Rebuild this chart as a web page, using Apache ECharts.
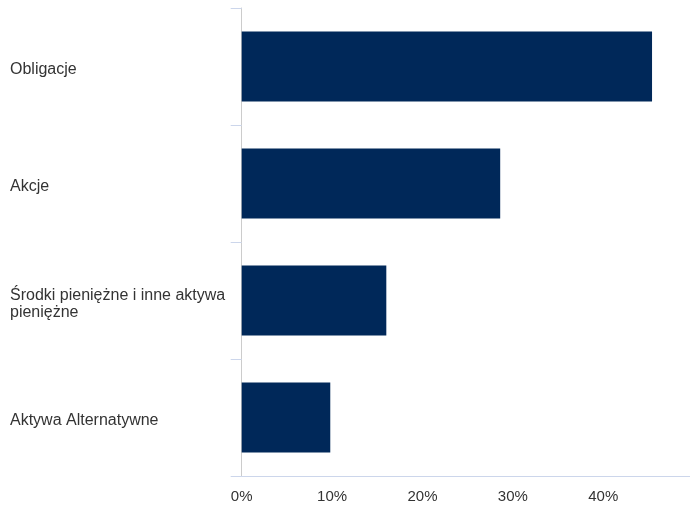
<!DOCTYPE html>
<html>
<head>
<meta charset="utf-8">
<script src="https://cdn.jsdelivr.net/npm/echarts@6/dist/echarts.min.js"></script>
<style>
html,body{margin:0;padding:0;background:#fff;}
#c{width:690px;height:509px;}
</style>
</head>
<body>
<div id="c"></div>
<script>
var categories = ['Obligacje', 'Akcje', 'Środki pieniężne i inne aktywa pieniężne', 'Aktywa Alternatywne'];
var values = [45.4, 28.6, 16.0, 9.8];
var tickLabels = ['0%', '10%', '20%', '30%', '40%'];

function wrapWords(text, maxChars) {
  var words = text.split(' '), lines = [], cur = '';
  words.forEach(function (w) {
    var next = cur ? cur + ' ' + w : w;
    if (next.length > maxChars && cur) { lines.push(cur); cur = w; }
    else { cur = next; }
  });
  if (cur) lines.push(cur);
  return lines.map(function (l) { return '{t|' + l + '}'; }).join('\n');
}

var chart = echarts.init(document.getElementById('c'));
chart.setOption({
  animation: false,
  grid: {left: 241.7, right: 0, top: 8, bottom: 33, containLabel: false},
  xAxis: {
    type: 'value', min: 0, max: 49.6, interval: 10,
    axisLine: {show: true, lineStyle: {color: '#ccd6eb', width: 1}},
    axisTick: {show: false},
    splitLine: {show: false},
    axisLabel: {
      showMaxLabel: false,
      margin: 13,
      color: '#333', fontSize: 15, fontFamily: 'Liberation Sans, Arial, sans-serif',
      formatter: function (v) { var i = Math.round(v / 10); return (Math.abs(v - i * 10) < 1e-6 && tickLabels[i] !== undefined) ? tickLabels[i] : ''; }
    }
  },
  yAxis: {
    type: 'category', data: categories, inverse: true,
    axisLine: {show: true, lineStyle: {color: '#cccccc', width: 1}},
    axisTick: {show: true, length: 11, lineStyle: {color: '#ccd6eb'}, alignWithLabel: false},
    axisLabel: {
      align: 'left', margin: 231.7,
      color: '#333', fontSize: 16, lineHeight: 17,
      fontFamily: 'Liberation Sans, Arial, sans-serif',
      formatter: function (v) { return wrapWords(v, 30); },
      rich: {
        t: {color: '#333', fontSize: 16, lineHeight: 17, padding: [7, 0, 0, 0],
            fontFamily: 'Liberation Sans, Arial, sans-serif'}
      }
    }
  },
  series: [{
    type: 'bar', data: values, barCategoryGap: '40%',
    itemStyle: {color: '#002859'}
  }]
});
</script>
</body>
</html>
